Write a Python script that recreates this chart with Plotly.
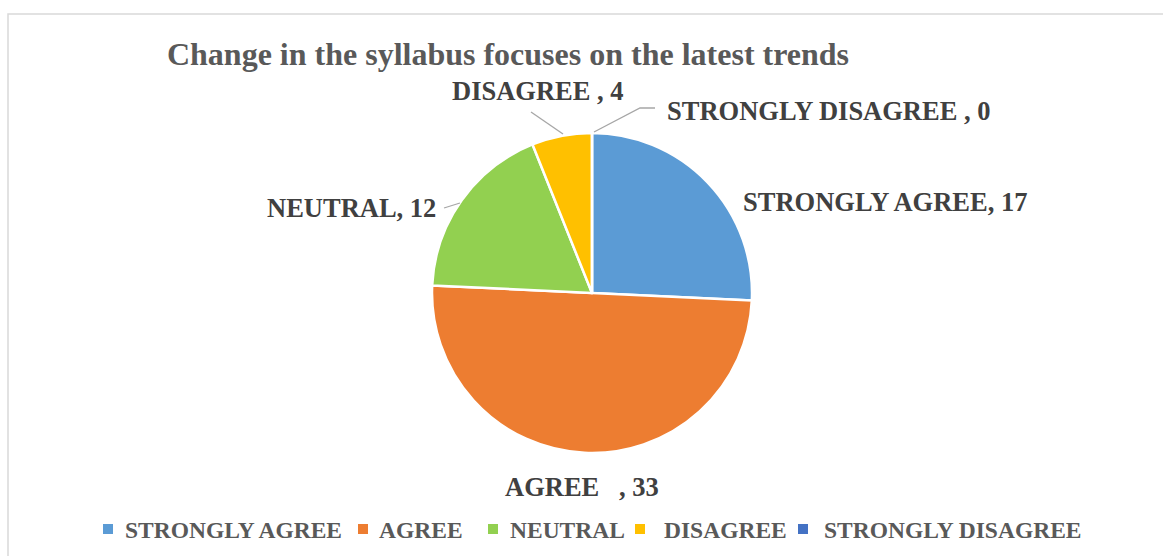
import plotly.graph_objects as go

categories = ["STRONGLY AGREE", "AGREE", "NEUTRAL", "DISAGREE", "STRONGLY DISAGREE"]
values = [17, 33, 12, 4, 0]
label_texts = ["STRONGLY AGREE, 17", "AGREE   , 33", "NEUTRAL, 12", "DISAGREE , 4", "STRONGLY DISAGREE , 0"]
colors = ["#5B9BD5", "#ED7D31", "#92D050", "#FFC000", "#4472C4"]

W, H = 1163, 556
SERIF = "Liberation Serif, Times New Roman, serif"

def px(x):
    return x / W

def py(y):
    return 1 - y / H

fig = go.Figure(go.Pie(
    labels=categories,
    values=values,
    sort=False,
    direction="clockwise",
    rotation=0,
    textinfo="none",
    hoverinfo="label+value",
    showlegend=False,
    marker=dict(colors=colors, line=dict(color="white", width=2.5)),
    domain=dict(x=[px(432), px(752)], y=[py(453), py(133)]),
))

# data label positions (pixel anchors, left-anchored, vertically centred)
label_pos = [(741, 202), (503, 487), (265, 208), (450, 91), (665, 111)]
annotations = []
for txt, (x, y) in zip(label_texts, label_pos):
    annotations.append(dict(
        text=f"<b>{txt}</b>", x=px(x), y=py(y), xref="paper", yref="paper",
        xanchor="left", yanchor="middle", showarrow=False,
        font=dict(family=SERIF, size=26.5, color="#404040"),
    ))

shapes = [
    # chart border
    dict(type="rect", xref="paper", yref="paper", x0=px(8), x1=px(1175), y0=py(570), y1=py(14),
         line=dict(color="#d9d9d9", width=1.5), fillcolor="rgba(0,0,0,0)", layer="below"),
    # leader lines
    dict(type="line", xref="paper", yref="paper", x0=px(531), y0=py(112), x1=px(563), y1=py(134),
         line=dict(color="#a6a6a6", width=1.3)),
    dict(type="path", xref="paper", yref="paper",
         path=f"M {px(594)} {py(132)} L {px(640)} {py(108)} L {px(655)} {py(108)}",
         line=dict(color="#a6a6a6", width=1.3)),
    dict(type="line", xref="paper", yref="paper", x0=px(444), y0=py(208), x1=px(460), y1=py(203),
         line=dict(color="#a6a6a6", width=1.3)),
]

# legend drawn manually (square swatch + bold text)
legend_sq_x = [103, 358, 488, 635, 798]
legend_txt_x = [123, 377, 508, 662, 822]
LEG_Y = 529
for name, col, sx, tx in zip(categories, colors, legend_sq_x, legend_txt_x):
    shapes.append(dict(type="rect", xref="paper", yref="paper",
                       x0=px(sx), x1=px(sx + 10), y0=py(LEG_Y + 5), y1=py(LEG_Y - 5),
                       fillcolor=col, line=dict(width=0)))
    annotations.append(dict(
        text=f"<b>{name}</b>", x=px(tx), y=py(LEG_Y + 1), xref="paper", yref="paper",
        xanchor="left", yanchor="middle", showarrow=False,
        font=dict(family=SERIF, size=23.5, color="#595959"),
    ))

fig.update_layout(
    width=W, height=H,
    margin=dict(l=0, r=0, t=0, b=0),
    paper_bgcolor="white", plot_bgcolor="white",
    title=dict(text="<b>Change in the syllabus focuses on the latest trends</b>",
               x=px(508), xanchor="center", y=py(54), yanchor="middle",
               font=dict(family=SERIF, size=32, color="#595959")),
    showlegend=False,
    annotations=annotations,
    shapes=shapes,
)

fig.write_html("out.html", config={"displayModeBar": False},
               post_script="document.body.style.margin='0';")
